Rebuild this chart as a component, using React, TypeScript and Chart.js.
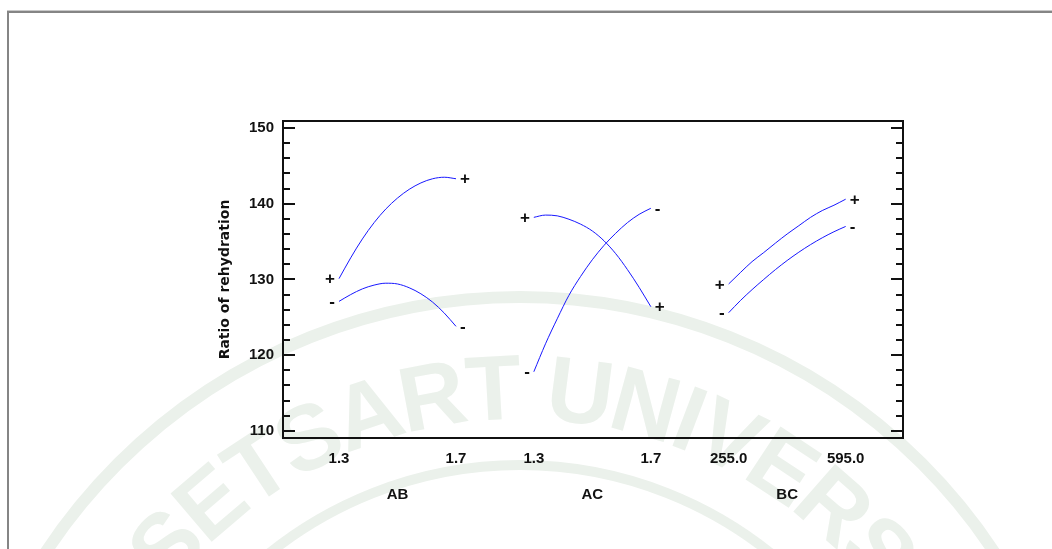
import React, { useEffect, useRef } from "react";
import { Chart, registerables } from "chart.js";

Chart.register(...registerables);

// Interaction panels and the factor levels printed under each one
const PANELS = ["AB", "AC", "BC"];
const LEVEL_LABELS = [
  ["1.3", "1.7"],
  ["1.3", "1.7"],
  ["255.0", "595.0"],
];
const Y_TICKS = [110, 120, 130, 140, 150];
const Y_TITLE = "Ratio of rehydration";

// Coded factor level along each panel, from low (-1) to high (+1)
const LEVELS = [-1, -0.8, -0.6, -0.4, -0.2, 0, 0.2, 0.4, 0.6, 0.8, 1];

// Predicted response with the second factor at its high (+) and low (-) setting
const AB_PLUS = [130.1, 132.85, 135.35, 137.5, 139.3, 140.75, 141.9, 142.75, 143.3, 143.5, 143.3];
const AB_MINUS = [127.1, 128.0, 128.75, 129.25, 129.5, 129.4, 128.9, 128.1, 127.0, 125.55, 123.8];
const AC_PLUS = [138.2, 138.5, 138.4, 137.95, 137.3, 136.4, 135.1, 133.4, 131.3, 128.95, 126.4];
const AC_MINUS = [117.8, 121.5, 124.8, 127.9, 130.4, 132.6, 134.5, 136.1, 137.5, 138.6, 139.4];
const BC_PLUS = [129.4, 130.9, 132.35, 133.55, 134.8, 136.0, 137.1, 138.2, 139.1, 139.8, 140.6];
const BC_MINUS = [125.6, 127.2, 128.65, 130.0, 131.3, 132.5, 133.6, 134.6, 135.5, 136.3, 137.0];

const SERIES = [
  { panel: 0, sign: "+", values: AB_PLUS },
  { panel: 0, sign: "-", values: AB_MINUS },
  { panel: 1, sign: "+", values: AC_PLUS },
  { panel: 1, sign: "-", values: AC_MINUS },
  { panel: 2, sign: "+", values: BC_PLUS },
  { panel: 2, sign: "-", values: BC_MINUS },
];

const CREST_TEXT = "KASETSART UNIVERSITY";

// Layout constants
const W = 1052;
const H = 549;
const PANEL_GAP = 3.33;
const X_MIN = -1.957;
const X_MAX = 8.64;
const Y_MIN = 109.05;
const Y_MAX = 150.93;

const LINE_COLOR = "rgb(24,24,255)";
const INK = "#111111";
const CREST_COLOR = "rgb(235,241,235)";
const SANS = '"Liberation Sans", Arial, sans-serif';

const panelCenter = (p: number) => p * PANEL_GAP;

const levelTicks: number[] = [];
const levelTickLabels: string[] = [];
PANELS.forEach((_, p) => {
  levelTicks.push(panelCenter(p) - 1, panelCenter(p) + 1);
  levelTickLabels.push(LEVEL_LABELS[p][0], LEVEL_LABELS[p][1]);
});
const panelTicks = PANELS.map((_, p) => panelCenter(p));

// Faint university crest printed behind the chart
const crestPlugin = {
  id: "crest",
  beforeDraw(chart: any) {
    const ctx = chart.ctx as CanvasRenderingContext2D;
    ctx.save();
    ctx.fillStyle = "#ffffff";
    ctx.fillRect(0, 0, W, H);
    const cx = 520;
    const cy = 865;
    ctx.strokeStyle = CREST_COLOR;
    ctx.lineWidth = 12;
    ctx.beginPath();
    ctx.arc(cx, cy, 568, Math.PI, 2 * Math.PI);
    ctx.stroke();
    ctx.lineWidth = 10;
    ctx.beginPath();
    ctx.arc(cx, cy, 400, Math.PI, 2 * Math.PI);
    ctx.stroke();

    ctx.font = `bold 92px ${SANS}`;
    ctx.fillStyle = CREST_COLOR;
    ctx.textAlign = "center";
    ctx.textBaseline = "alphabetic";
    const spaceIdx = CREST_TEXT.indexOf(" ");
    const anchor =
      ctx.measureText(CREST_TEXT.slice(0, spaceIdx)).width +
      ctx.measureText(" ").width / 2;
    const rMid = 475;
    const rBase = 446;
    const a0 = 0.03;
    let pos = 0;
    for (const ch of CREST_TEXT) {
      const w = ctx.measureText(ch).width;
      const a = a0 + (pos + w / 2 - anchor) / rMid;
      pos += w;
      if (ch === " ") continue;
      ctx.save();
      ctx.translate(cx + rBase * Math.sin(a), cy - rBase * Math.cos(a));
      ctx.rotate(a);
      ctx.fillText(ch, 0, 0);
      ctx.restore();
    }

    // page frame
    ctx.fillStyle = "#c9c9c9";
    ctx.fillRect(7, 10, W, 1);
    ctx.fillStyle = "#858585";
    ctx.fillRect(7, 11, W, 2);
    ctx.fillRect(7, 11, 2, H);
    ctx.restore();
  },
};

// Plot box with inward ticks on both vertical sides
const framePlugin = {
  id: "frame",
  afterDatasetsDraw(chart: any) {
    const { ctx, chartArea } = chart;
    const y = chart.scales.y;
    ctx.save();
    ctx.strokeStyle = INK;
    ctx.lineWidth = 2;
    ctx.strokeRect(chartArea.left, chartArea.top, chartArea.right - chartArea.left, chartArea.bottom - chartArea.top);
    ctx.beginPath();
    for (let v = Y_TICKS[0]; v <= Y_TICKS[Y_TICKS.length - 1]; v += 2) {
      const py = Math.round(y.getPixelForValue(v));
      const len = v % 10 === 0 ? 12 : 7;
      ctx.moveTo(chartArea.left, py);
      ctx.lineTo(chartArea.left + len, py);
      ctx.moveTo(chartArea.right, py);
      ctx.lineTo(chartArea.right - len, py);
    }
    ctx.stroke();

    // "+" / "-" labels at both ends of every curve
    ctx.fillStyle = INK;
    ctx.font = `bold 17px ${SANS}`;
    ctx.textBaseline = "middle";
    SERIES.forEach((s, i) => {
      const pts = chart.getDatasetMeta(i).data;
      const first = pts[0];
      const last = pts[pts.length - 1];
      ctx.textAlign = "right";
      ctx.fillText(s.sign, first.x - 4, first.y + 1);
      ctx.textAlign = "left";
      ctx.fillText(s.sign, last.x + 4, last.y + 1);
    });
    ctx.restore();
  },
};

export default function App() {
  const canvasRef = useRef<HTMLCanvasElement | null>(null);

  useEffect(() => {
    const canvas = canvasRef.current;
    if (!canvas) return;

    const datasets = SERIES.map((s) => ({
      label: `${PANELS[s.panel]} ${s.sign}`,
      data: s.values.map((v, k) => ({ x: panelCenter(s.panel) + LEVELS[k], y: v })),
      borderColor: LINE_COLOR,
      borderWidth: 1,
      pointRadius: 0,
      cubicInterpolationMode: "monotone" as const,
      fill: false,
    }));

    const tickFont = { family: SANS, size: 15, weight: "bold" as const };

    const chart = new Chart(canvas, {
      type: "line",
      data: { datasets },
      options: {
        animation: false,
        responsive: false,
        maintainAspectRatio: false,
        devicePixelRatio: 1,
        layout: { padding: { left: 213, top: 121, right: 149, bottom: 36 } },
        plugins: {
          legend: { display: false },
          tooltip: { enabled: false },
        },
        scales: {
          x: {
            type: "linear",
            position: "bottom",
            weight: 0,
            min: X_MIN,
            max: X_MAX,
            grid: { display: false, drawTicks: false },
            border: { display: false },
            afterBuildTicks: (scale: any) => {
              scale.ticks = levelTicks.map((v) => ({ value: v }));
            },
            afterFit: (scale: any) => {
              scale.height = 35;
            },
            ticks: {
              autoSkip: false,
              maxRotation: 0,
              padding: 12,
              color: INK,
              font: tickFont,
              callback: (_v: any, i: number) => levelTickLabels[i],
            },
          },
          x2: {
            type: "linear",
            position: "bottom",
            weight: 1,
            min: X_MIN,
            max: X_MAX,
            grid: { display: false, drawTicks: false },
            border: { display: false },
            afterBuildTicks: (scale: any) => {
              scale.ticks = panelTicks.map((v) => ({ value: v }));
            },
            afterFit: (scale: any) => {
              scale.height = 40;
            },
            ticks: {
              autoSkip: false,
              maxRotation: 0,
              padding: 13,
              color: INK,
              font: tickFont,
              callback: (_v: any, i: number) => PANELS[i],
            },
          },
          y: {
            type: "linear",
            position: "left",
            min: Y_MIN,
            max: Y_MAX,
            grid: { display: false, drawTicks: false },
            border: { display: false },
            afterBuildTicks: (scale: any) => {
              scale.ticks = Y_TICKS.map((v) => ({ value: v }));
            },
            afterFit: (scale: any) => {
              scale.width = 70;
            },
            ticks: {
              padding: 9,
              color: INK,
              font: tickFont,
            },
            title: {
              display: true,
              text: Y_TITLE,
              color: INK,
              font: { family: '"DejaVu Sans", Verdana, sans-serif', size: 14, weight: "bold" },
              padding: { top: 4, bottom: 0 },
            },
          },
        },
      },
      plugins: [crestPlugin, framePlugin],
    });

    return () => chart.destroy();
  }, []);

  return (
    <div style={{ position: "fixed", left: 0, top: 0, width: W, height: H, background: "#fff" }}>
      <canvas ref={canvasRef} width={W} height={H} style={{ display: "block", width: W, height: H }} />
    </div>
  );
}
